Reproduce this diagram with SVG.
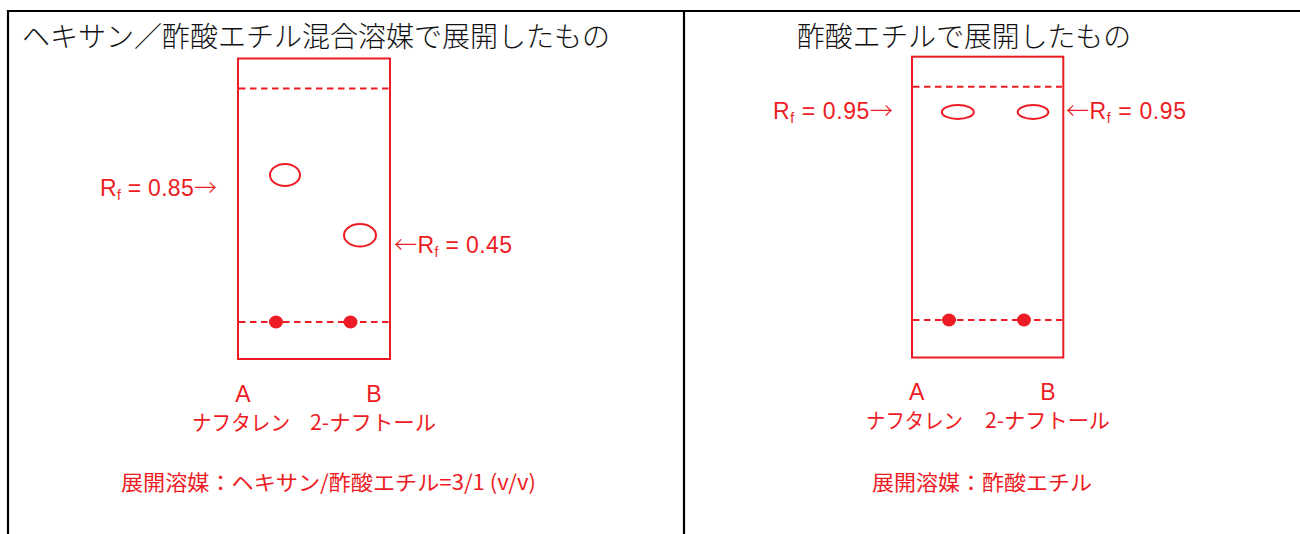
<svg xmlns="http://www.w3.org/2000/svg" width="1300" height="534" viewBox="0 0 1300 534">
<style>
.frame{stroke:#000;stroke-width:2.2;fill:none}
.plate{stroke:#ed1c24;stroke-width:2;fill:none}
.dash{stroke:#ed1c24;stroke-width:2;stroke-dasharray:6.5 4.5;fill:none}
.spot{stroke:#ed1c24;stroke-width:2;fill:none}
.dot{fill:#ed1c24;stroke:none}
.title{font-family:"Noto Sans CJK JP","Noto Sans CJK SC",sans-serif;font-size:28px;font-weight:300;fill:#111}
.lab{font-family:"Liberation Sans","Noto Sans CJK JP",sans-serif;font-size:23px;fill:#ed1c24}
.arr{font-family:"Noto Sans CJK JP",sans-serif;font-weight:300}
.jp{font-family:"Noto Sans CJK JP","Liberation Sans",sans-serif;font-size:21px;fill:#ed1c24}
.sub{font-size:14px}
</style>
<rect width="1300" height="534" fill="#fff"/>
<g id="frame">
<path class="frame" d="M7,11 H1300 M8,10 V534 M684,11 V534"/>
</g>
<g id="panel-left">
<text class="title" x="22" y="47" textLength="588" lengthAdjust="spacingAndGlyphs">ヘキサン／酢酸エチル混合溶媒で展開したもの</text>
<rect class="plate" x="238" y="58.5" width="152" height="300.5"/>
<line class="dash" x1="239" y1="88.5" x2="389" y2="88.5"/>
<line class="dash" x1="239" y1="322" x2="389" y2="322"/>
<ellipse class="spot" cx="285" cy="175" rx="15" ry="11"/>
<ellipse class="spot" cx="360" cy="235.3" rx="16" ry="11.3"/>
<ellipse class="dot" cx="276" cy="322" rx="7" ry="6.5"/>
<ellipse class="dot" cx="350.5" cy="322" rx="7" ry="6.5"/>
<text class="lab" x="100" y="196" textLength="117">R<tspan class="sub" dy="4">f</tspan><tspan dy="-4"> = 0.85</tspan><tspan class="arr">→</tspan></text>
<text class="lab" x="394" y="253" textLength="118"><tspan class="arr">←</tspan>R<tspan class="sub" dy="4">f</tspan><tspan dy="-4"> = 0.45</tspan></text>
<text class="lab" x="243" y="401.5" text-anchor="middle" font-size="21">A</text>
<text class="lab" x="374" y="401.5" text-anchor="middle" font-size="21">B</text>
<text class="jp" x="192" y="430" textLength="98" lengthAdjust="spacingAndGlyphs">ナフタレン</text>
<text class="jp" x="310" y="430" textLength="126" lengthAdjust="spacingAndGlyphs">2-ナフトール</text>
<text class="jp" x="121" y="490" textLength="415" lengthAdjust="spacingAndGlyphs">展開溶媒：ヘキサン/酢酸エチル=3/1 (v/v)</text>
</g>
<g id="panel-right">
<text class="title" x="797" y="47" textLength="334" lengthAdjust="spacingAndGlyphs">酢酸エチルで展開したもの</text>
<rect class="plate" x="912" y="56.7" width="151.3" height="300.8"/>
<line class="dash" x1="913" y1="86.7" x2="1062" y2="86.7"/>
<line class="dash" x1="913" y1="320" x2="1062" y2="320"/>
<ellipse class="spot" cx="957.8" cy="112" rx="16" ry="7"/>
<ellipse class="spot" cx="1033" cy="112" rx="15.3" ry="7"/>
<ellipse class="dot" cx="949" cy="320" rx="7" ry="6.5"/>
<ellipse class="dot" cx="1024" cy="320" rx="7" ry="6.5"/>
<text class="lab" x="773" y="119" textLength="120">R<tspan class="sub" dy="4">f</tspan><tspan dy="-4"> = 0.95</tspan><tspan class="arr">→</tspan></text>
<text class="lab" x="1066" y="119" textLength="120"><tspan class="arr">←</tspan>R<tspan class="sub" dy="4">f</tspan><tspan dy="-4"> = 0.95</tspan></text>
<text class="lab" x="916.7" y="400" text-anchor="middle" font-size="21">A</text>
<text class="lab" x="1048" y="400" text-anchor="middle" font-size="21">B</text>
<text class="jp" x="866" y="428" textLength="97" lengthAdjust="spacingAndGlyphs">ナフタレン</text>
<text class="jp" x="985" y="428" textLength="125" lengthAdjust="spacingAndGlyphs">2-ナフトール</text>
<text class="jp" x="872" y="490" textLength="220" lengthAdjust="spacingAndGlyphs">展開溶媒：酢酸エチル</text>
</g>
<g id="connectors"/>
</svg>
